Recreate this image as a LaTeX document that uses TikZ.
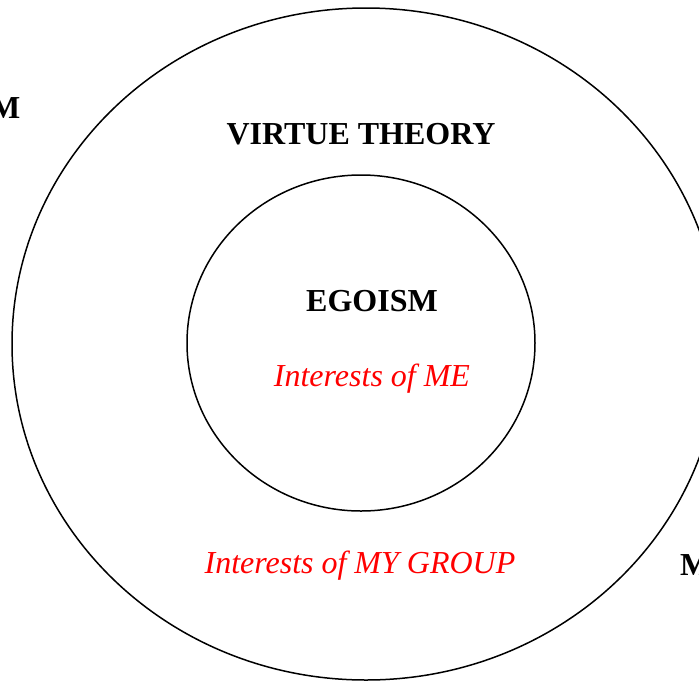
\documentclass[tikz,border=0pt]{standalone}
\usepackage{fontspec}
\setmainfont{Liberation Serif}
\begin{document}
\begin{tikzpicture}[x=1pt,y=-1pt,
  ring/.style={draw=black,line width=1.5pt},
  boldlbl/.style={font=\fontsize{32}{36}\selectfont\bfseries,anchor=base,inner sep=0pt},
  redlbl/.style={font=\fontsize{32}{36}\selectfont\itshape,text=red,anchor=base,inner sep=0pt}]
\useasboundingbox (0,0) rectangle (699,681);
\clip (0,0) rectangle (699,681);
\draw[ring] (366,344) ellipse [x radius=354, y radius=336];
\draw[ring] (361,343) ellipse [x radius=174, y radius=168];
\node[boldlbl] (virtue) at (361,144) {VIRTUE THEORY};
\node[boldlbl] (ego) at (372,311) {EGOISM};
\node[redlbl] (me) at (372,386) {Interests of ME};
\node[redlbl] (group) at (360,573) {Interests of MY GROUP};
\node[boldlbl,anchor=base west] (mleft) at (-10,118) {M};
\node[boldlbl,anchor=base west] (mright) at (680,575) {M};
\end{tikzpicture}
\end{document}
